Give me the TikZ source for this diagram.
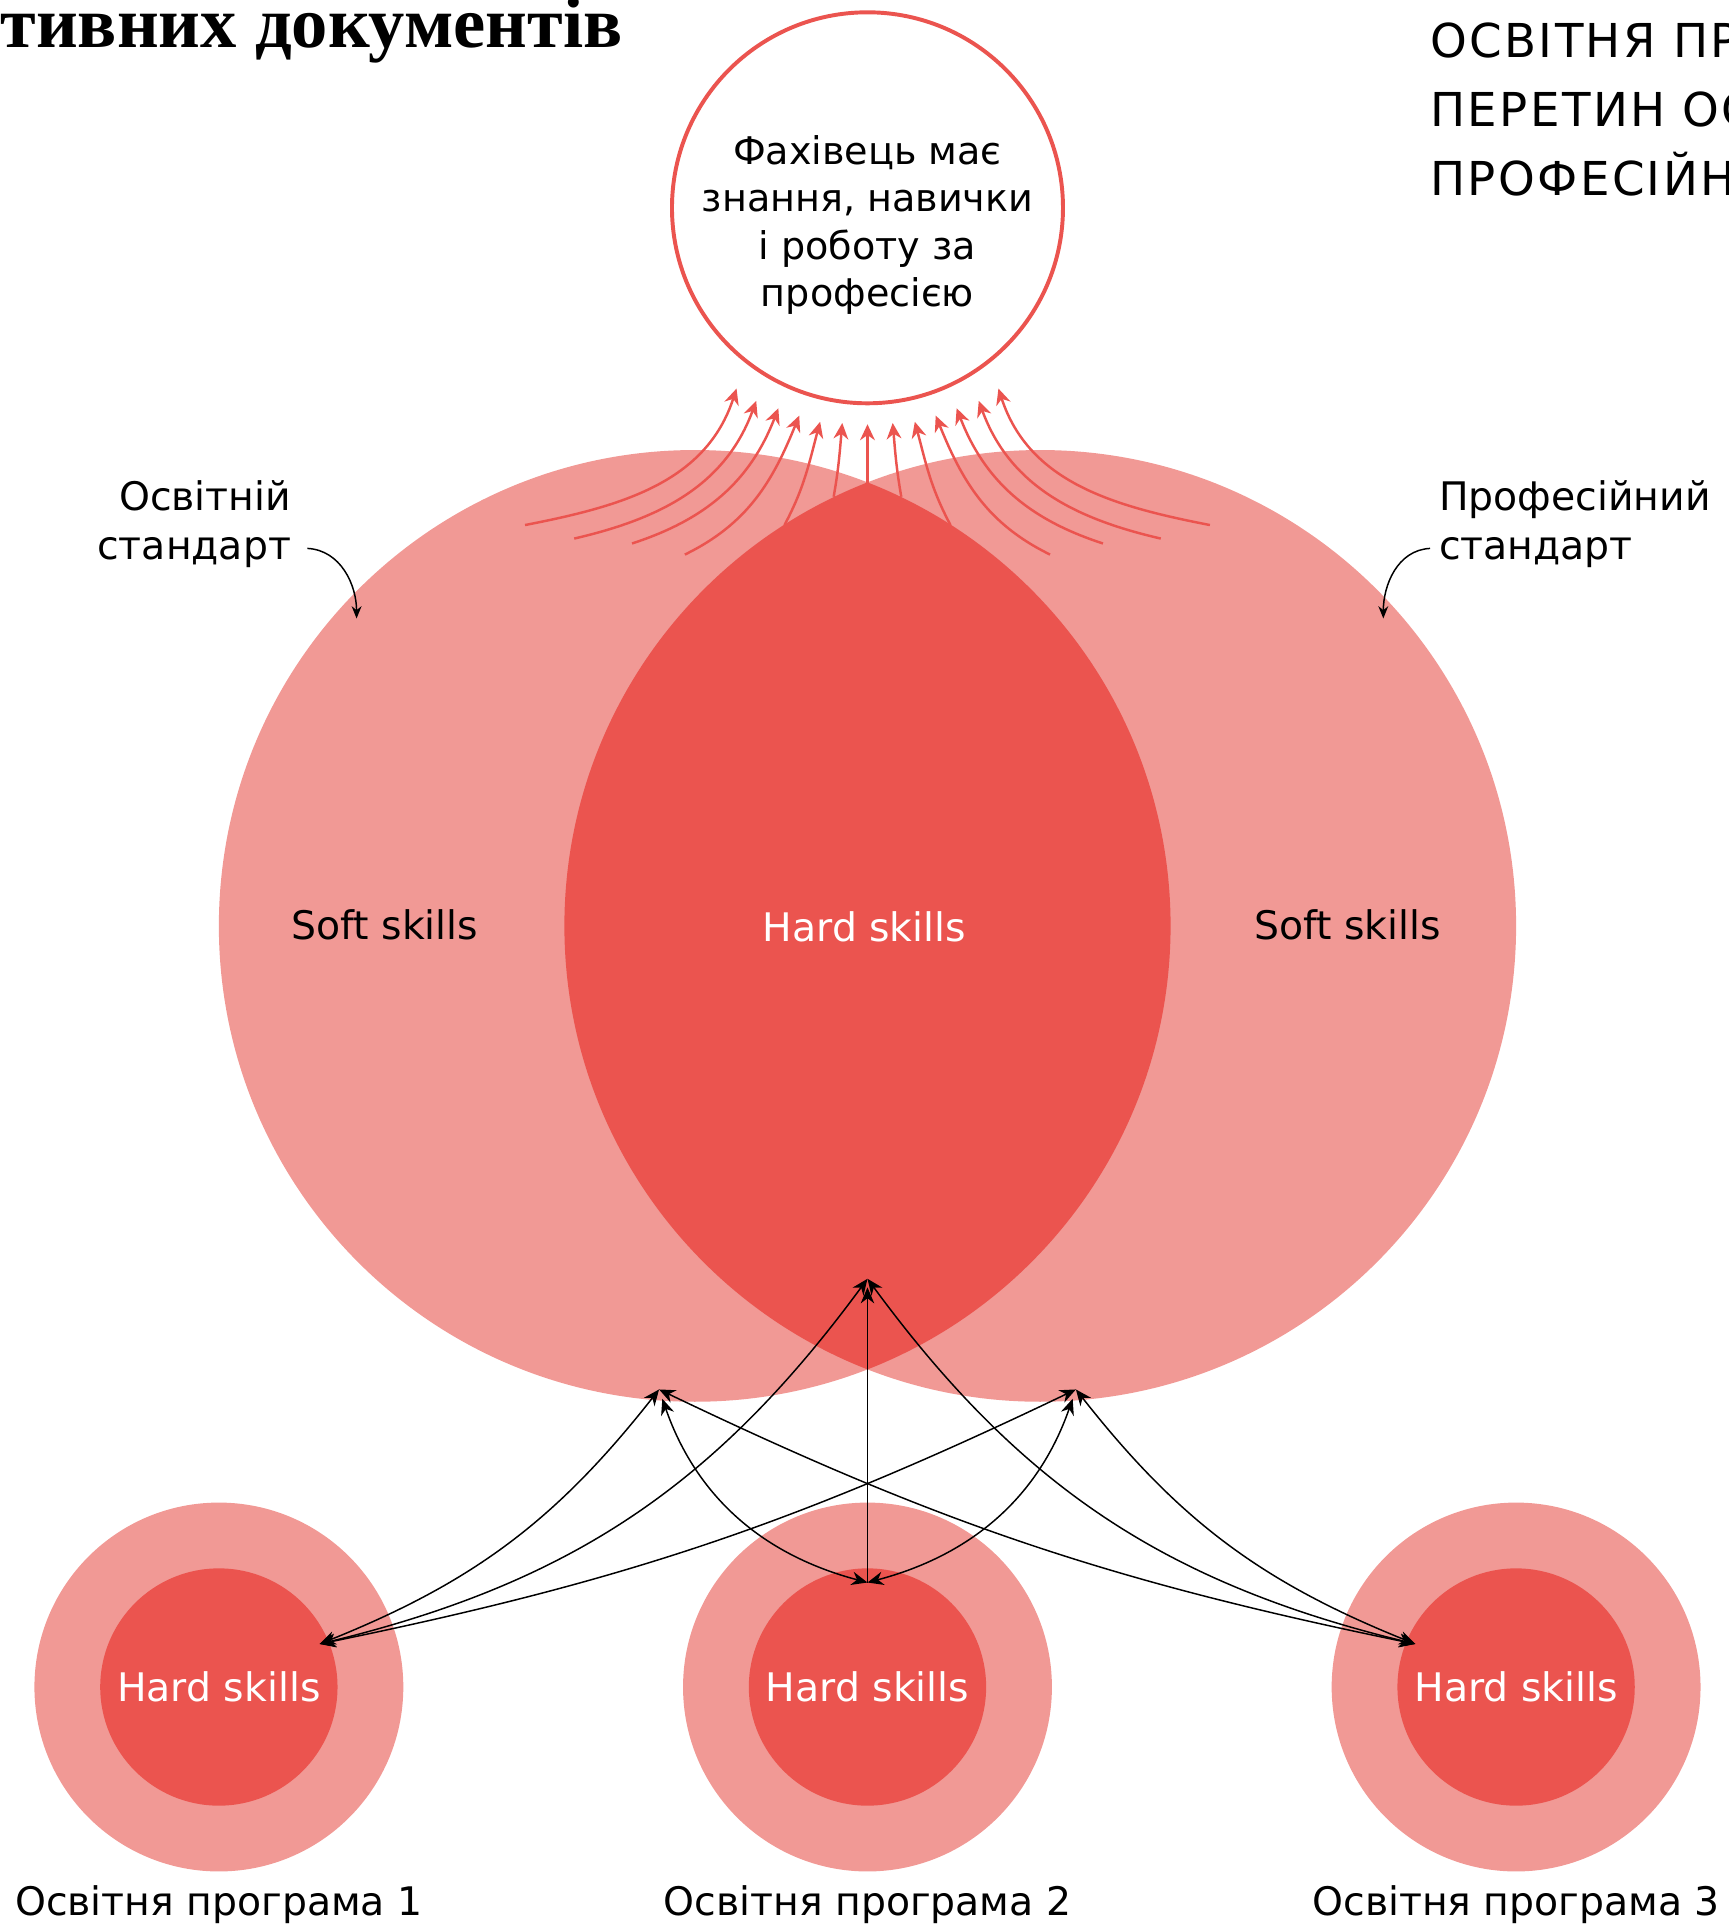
\documentclass[tikz,border=0pt]{standalone}
\usepackage{fontspec}
\setmainfont{DejaVu Sans}
\newfontfamily\titlefont{Liberation Serif}
\newfontfamily\headfont{DejaVu Sans}[LetterSpace=5]
\usetikzlibrary{arrows.meta}
\definecolor{pinkc}{HTML}{F19995}
\definecolor{redc}{HTML}{EB544F}
\begin{document}
\begin{tikzpicture}[x=0.5pt,y=0.5pt,
  lbl/.style={font=\fontsize{16}{20}\selectfont, inner sep=0pt},
  bigcirc/.style={circle, fill=pinkc, minimum size=387pt, inner sep=0pt},
  outercirc/.style={circle, fill=pinkc, minimum size=150pt, inner sep=0pt},
  innercirc/.style={circle, fill=redc, minimum size=96.5pt, inner sep=0pt, text=white, font=\fontsize{16}{20}\selectfont},
  redarr/.style={draw=redc, line width=1pt, -{Stealth[length=6.5pt,width=6pt]}},
  blk/.style={draw=black, line width=0.6pt, >={Stealth[length=6.5pt,width=5.5pt]}},
  note/.style={draw=black, line width=0.6pt, -{Stealth[length=5pt,width=4pt]}},
  head/.style={anchor=base west, inner sep=0pt, font=\fontsize{19}{28}\headfont}]
\useasboundingbox (0,0) rectangle (1406,-1568);
\clip (0,0) rectangle (1406,-1568);

% titles
\node[anchor=base west, inner sep=0pt, font=\fontsize{29.5}{34}\titlefont\bfseries] (title) at (0,-39) {тивних документів};
\node[head] (h1) at (1163,-47) {ОСВІТНЯ ПР};
\node[head] (h2) at (1163,-103) {ПЕРЕТИН ОС};
\node[head] (h3) at (1163,-159) {ПРОФЕСІЙН};

% big circles
\node[bigcirc] (edu) at (565,-753) {};
\node[bigcirc] (prof) at (846,-753) {};
\begin{scope}
  \clip (565,-753) circle[radius=193.5pt];
  \fill[redc] (846,-753) circle[radius=193.5pt];
\end{scope}
\node[lbl] (softl) at (313,-752) {Soft skills};
\node[lbl] (softr) at (1096,-752) {Soft skills};
\node[lbl, text=white] (hardc) at (703,-754) {Hard skills};

% goal circle
\node[circle, draw=redc, line width=1.6pt, fill=white, minimum size=159pt, inner sep=0pt] (goal) at (705.5,-169) {};
\node[align=center, inner sep=0pt, font=\fontsize{15.5}{19.35}\selectfont] (goaltext) at (705.5,-183) {Фахівець має\\знання, навички\\і роботу за\\професією};

% red arrows
\foreach \i/\sx/\sy/\tx/\ty/\o/\n in {
  1/427/427/599/316/11/-108,
  2/467/438/615/326/13/-110,
  3/514/442/633/332/18/-111,
  4/557/451/650/338/26/-112,
  5/638/427/667/343/62/-105,
  6/678/404/685/344/80/-95,
  7/705.5/393/705.5/345/90/-90,
  8/733/404/726/344/100/-85,
  9/773/427/744/343/118/-75,
  10/854/451/761/338/154/-68,
  11/897/442/778/332/162/-69,
  12/944/438/796/326/167/-70,
  13/984/427/812/316/169/-72}{
  \coordinate (rs\i) at (\sx,-\sy);
  \coordinate (rt\i) at (\tx,-\ty);
  \draw[redarr] (rs\i) to[out=\o,in=\n] (rt\i);
}

% standard labels
\node[lbl, align=right, anchor=east] (eduStd) at (237,-426) {Освітній\\стандарт};
\node[lbl, align=left, anchor=west] (profStd) at (1170,-426) {Професійний\\стандарт};
\coordinate (es) at (250,-446);
\coordinate (ee) at (290,-503);
\coordinate (ps) at (1163,-446);
\coordinate (pe) at (1125,-503);
\draw[note] (es) to[out=-3,in=90] (ee);
\draw[note] (ps) to[out=183,in=90] (pe);

% small circles
\foreach \k/\cx in {1/178, 2/705.5, 3/1233}{
  \node[outercirc] (opo\k) at (\cx,-1372) {};
  \node[innercirc] (op\k) at (\cx,-1372) {Hard skills};
  \node[lbl] (opl\k) at (\cx,-1549) {Освітня програма \k};
}

% black connectors
\coordinate (aL) at (260,-1337);
\coordinate (aM) at (705.5,-1287);
\coordinate (aR) at (1151,-1337);
\coordinate (tP1) at (536,-1130);
\coordinate (tP2) at (875,-1130);
\coordinate (tC) at (705.5,-1040);
\draw[blk,<->] (aL) to[bend right=15] (tP1);
\draw[blk,<->] (aL) to[bend right=20] (tC);
\draw[blk,<->] (aL) to[bend right=7] (tP2);
\draw[blk,<->, shorten >=4pt] (aM) to[bend left=28] (tP1);
\draw[blk,->, shorten >=3.5pt] (aM) -- (tC);
\draw[blk,<->, shorten >=4pt] (aM) to[bend right=28] (tP2);
\draw[blk,<->] (aR) to[bend left=15] (tP2);
\draw[blk,<->] (aR) to[bend left=20] (tC);
\draw[blk,<->] (aR) to[bend left=7] (tP1);
\end{tikzpicture}
\end{document}
